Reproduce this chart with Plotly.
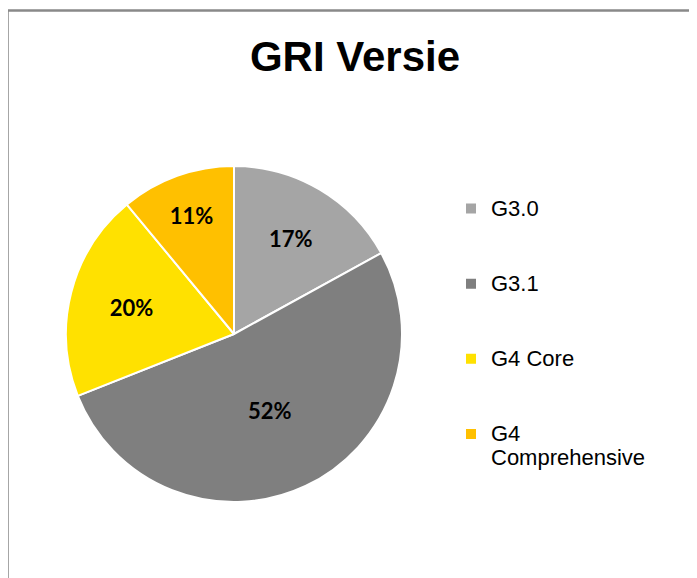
import plotly.graph_objects as go

# data
categories = ["G3.0", "G3.1", "G4 Core", "G4 Comprehensive"]
shares = [17, 52, 20, 11]
slice_colors = ["#A5A5A5", "#7F7F7F", "#FFE100", "#FFC000"]

W, H = 697, 578
OFF = 8  # page body margin shifts the figure by 8px


def px(x):
    return (x - OFF) / W


def py(y):
    return 1 - (y - OFF) / H


def legend_label(name):
    # long names wrap on the space like the Excel legend does
    if len(name) > 12:
        body = "<br>".join(name.split(" "))
        pad = 1
    else:
        body = name
        pad = 2
    return '<span style="font-size:22px">' + body + "</span>" + "<br> " * pad


fig = go.Figure()

fig.add_trace(go.Pie(
    labels=[legend_label(c) for c in categories],
    values=shares,
    sort=False,
    direction="clockwise",
    rotation=0,
    marker=dict(colors=slice_colors, line=dict(color="white", width=2)),
    texttemplate="%{percent:.0%}",
    textposition="inside",
    insidetextorientation="horizontal",
    textfont=dict(family="Lato", size=22, color="black", weight="bold"),
    domain=dict(x=[px(66), px(402)], y=[py(502), py(166)]),
    hovertemplate="%{value}%<extra></extra>",
))

fig.update_layout(
    width=W, height=H, autosize=False,
    margin=dict(l=0, r=0, t=0, b=0),
    paper_bgcolor="white",
    plot_bgcolor="white",
    title=dict(text="<b>GRI Versie</b>", x=px(355), xanchor="center",
               y=py(56), yanchor="middle",
               font=dict(family="Liberation Sans", size=42, color="black")),
    legend=dict(x=px(451), xanchor="left", y=py(190), yanchor="top",
                valign="top", font=dict(family="Liberation Sans", size=18.5, color="black"),
                bgcolor="rgba(0,0,0,0)"),
    shapes=[dict(type="rect", xref="paper", yref="paper",
                 x0=px(7.5), x1=1.05, y0=-0.05, y1=py(10.5),
                 line=dict(color="#898989", width=2.5))],
)

fig.write_html("out.html")
